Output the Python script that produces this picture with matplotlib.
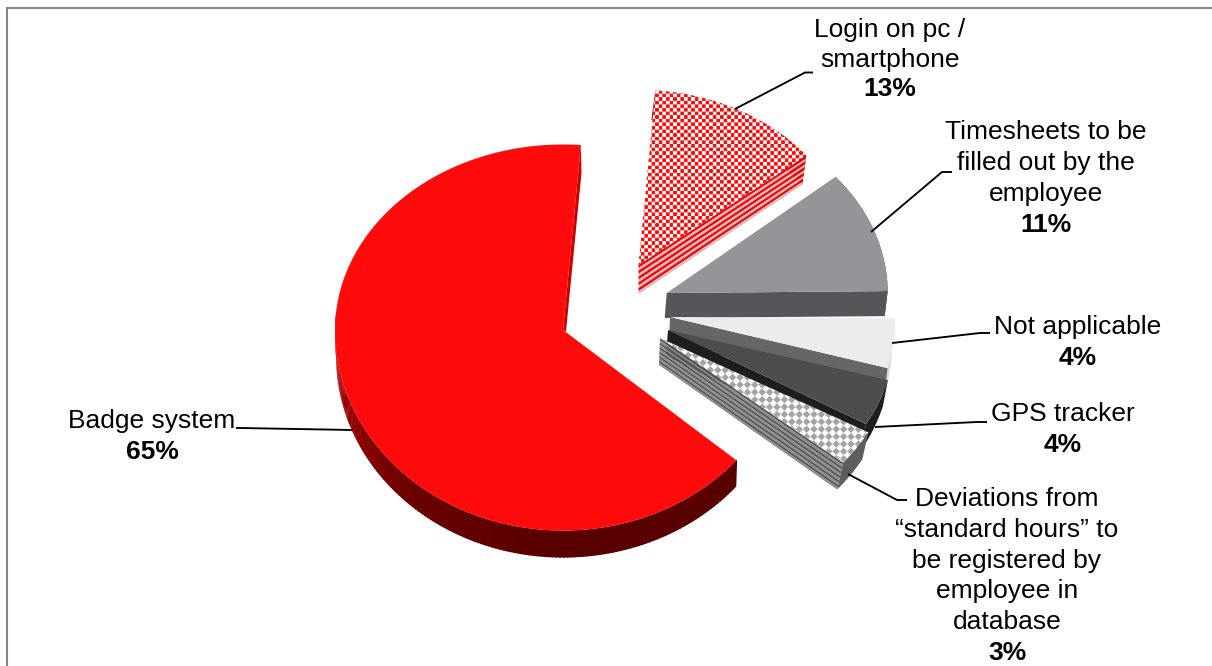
import numpy as np
import matplotlib
matplotlib.use("Agg")
import matplotlib.pyplot as plt
from matplotlib.patches import Polygon
from matplotlib.colors import LinearSegmentedColormap, to_rgb

# ---- data ----
categories = ["Badge system", "Login on pc / smartphone",
              "Timesheets to be filled out by the employee", "Not applicable",
              "GPS tracker",
              "Deviations from \u201cstandard hours\u201d to be registered by employee in database"]
values = [65, 13, 11, 4, 4, 3]
label_lines = [["Badge system"],
               ["Login on pc /", "smartphone"],
               ["Timesheets to be", "filled out by the", "employee"],
               ["Not applicable"],
               ["GPS tracker"],
               ["Deviations from", "\u201cstandard hours\u201d to", "be registered by", "employee in", "database"]]

# ---- layout / style (pixel geometry of the tilted, exploded pie) ----
W, H = 1212, 666
START = 85.5
apex = [(563, 330), (638.5, 265), (666.7, 293), (670, 317), (668, 330), (660, 338)]
rx = [228, 215, 221, 225, 228, 238]
ry_back = [185.5, 175, 180, 200, 190, 195]
ry_front = [200.6, 175, 180, 200, 190, 195]
rot = [0, 0, 1.5, 0.5, 0, 0.8]
depth = [(0, 27), (-4, 29), (-3, 25), (-3, 26), (-5, 26), (-6, 27)]
apex_dx = [0, 0, -2, -1, -2, -1]
top_col = ["#FF0B0B", None, "#949598", "#ECECEC", "#4D4D4D", None]
side_col = [None, ("#F00000", "#D8B8B8"), "#55565A", "#666666", "#1E1E1E", ("#555555", "#8C8C8C")]
arc_col = [None, "#C00000", "#55565A", "#D8D8D8", "#1E1E1E", "#5E5E5E"]
side_bands = [0, 10, 1, 1, 1, 12]
label_x = [152, 890, 1046, 1078, 1063, 1007]
label_y = [421, 30.5, 132, 327, 414, 499]
line_h = [30.8, 29.2, 31, 30.8, 30.8, 30.8]
leaders = [[(352, 430), (241, 428), (236, 428)],
           [(735, 109), (805, 72.5), (813, 72.5)],
           [(871, 232), (942, 172), (952, 172)],
           [(892, 343), (980, 333), (990, 333)],
           [(875, 427), (977, 422), (987, 422)],
           [(848, 474), (897, 500), (907, 500)]]
font = "Liberation Sans"
fs = 19

fig = plt.figure(figsize=(W / 100, H / 100), dpi=100, facecolor="white")
ax = fig.add_axes([0, 0, 1, 1])
ax.set_xlim(0, W)
ax.set_ylim(H, 0)
ax.axis("off")

# frame: only top and left edges are visible
ax.plot([7, 7, W], [H, 7.5, 7.5], color="#868686", lw=1.5, solid_joinstyle="miter", zorder=1)

# slice angle spans from the values (clockwise from START, badge slice goes round the other way)
frac = np.array(values) / sum(values) * 360
spans = []
spans.append((START + frac[0], START))  # badge: START..START+234 counter-clockwise
a0 = START
for f in frac[1:]:
    spans.append((a0, a0 - f))
    a0 -= f


def rim(i, t_deg, off=(0, 0), shrink=1.0):
    t = np.radians(t_deg)
    b = np.where(np.sin(t) >= 0, ry_back[i], ry_front[i])
    x = apex[i][0] + rx[i] * shrink * np.cos(t) + off[0]
    y = apex[i][1] - b * np.sin(t) + off[1]
    return np.column_stack([x, y])


def texture(kind):
    yy, xx = np.mgrid[0:H, 0:W] + 0.5
    if kind == "check":
        P = 7.2
        s = np.sin(2 * np.pi * xx / P) * np.sin(2 * np.pi * yy / P)
        m = np.clip(0.5 + s * 2.2, 0, 1)[..., None]
        return m * np.array(to_rgb("#FF0A0A")) + (1 - m) * np.array([1, 1, 1])
    P = 7.4
    s = np.cos(2 * np.pi * xx / P) + np.cos(2 * np.pi * yy / P)
    m = np.clip(0.5 + s * 1.2, 0, 1)[..., None]
    return m * np.array(to_rgb("#A4A4A4")) + (1 - m) * np.array([1, 1, 1])


red_side = LinearSegmentedColormap.from_list(
    "rs", [(0, "#C80000"), (0.25, "#9A0000"), (0.55, "#6E0000"), (1, "#580000")])

order = [1, 2, 3, 4, 5, 0]
z = 5
for i in order:
    t0, t1 = spans[i]
    t0 += rot[i]
    t1 += rot[i]
    off = depth[i]
    ts = np.linspace(t0, t1, 160)
    A = np.array(apex[i], float)
    top_poly = np.vstack([[A], rim(i, ts)])

    # outer rim side
    if i == 0:
        # side shading varies round the rim of the big slice
        tt = np.linspace(175, t0, 150)
        for k in range(len(tt) - 1):
            seg = np.array([tt[k], tt[k + 1] + 0.3])
            up = rim(i, seg)
            lo = rim(i, seg, off, 0.995)
            c = red_side(min(1.0, float(tt[k] - 175) / 90.0))
            ax.add_patch(Polygon(np.vstack([up, lo[::-1]]), closed=True, fc=c, ec="none", zorder=z))
        # thin face along the start radius
        p = rim(i, np.array([t1]))[0]
        ax.add_patch(Polygon([p, p + (0.6, 28), A + (3, 1.5), A], closed=True, fc="#CC0000", ec="none", zorder=z))
    else:
        ax.add_patch(Polygon(np.vstack([rim(i, ts), rim(i, ts, off)[::-1]]), closed=True,
                             fc=arc_col[i], ec="none", zorder=z))
        # flat side along the end radius, plain or striped
        pe = rim(i, np.array([t1]))[0]
        n = side_bands[i]
        cols = side_col[i] if isinstance(side_col[i], tuple) else (side_col[i],)
        for k in range(n):
            f0, f1 = k / n, (k + 1) / n
            d0, d1 = np.array(off) * f0, np.array(off) * f1
            a_d0 = np.array([apex_dx[i] * f0, off[1] * f0])
            a_d1 = np.array([apex_dx[i] * f1, off[1] * f1])
            ax.add_patch(Polygon([A + a_d0, pe + d0, pe + d1, A + a_d1], closed=True,
                                 fc=cols[k % len(cols)], ec="none", zorder=z))
    z += 1

    # top face
    if top_col[i] is not None:
        ax.add_patch(Polygon(top_poly, closed=True, fc=top_col[i], ec="none", zorder=z))
    else:
        clip = Polygon(top_poly, closed=True, fc="none", ec="none", zorder=z)
        ax.add_patch(clip)
        im = ax.imshow(texture("check" if i == 1 else "dots"), extent=(0, W, H, 0),
                       interpolation="bilinear", aspect="auto", zorder=z)
        im.set_clip_path(clip)
    z += 1

ax.set_xlim(0, W)
ax.set_ylim(H, 0)

# leader lines and labels
for i in range(len(values)):
    xs, ys = zip(*leaders[i])
    ax.plot(xs, ys, color="black", lw=1.35, zorder=40, solid_capstyle="butt")
    for k, line in enumerate(label_lines[i]):
        ax.text(label_x[i], label_y[i] + k * line_h[i], line, ha="center", va="center",
                fontsize=fs, family=font, color="black", zorder=41)
    ax.text(label_x[i], label_y[i] + len(label_lines[i]) * line_h[i], f"{values[i]}%", ha="center",
            va="center", fontsize=fs, family=font, weight="bold", color="black", zorder=41)

fig.savefig("out.png", dpi=100, facecolor="white")
